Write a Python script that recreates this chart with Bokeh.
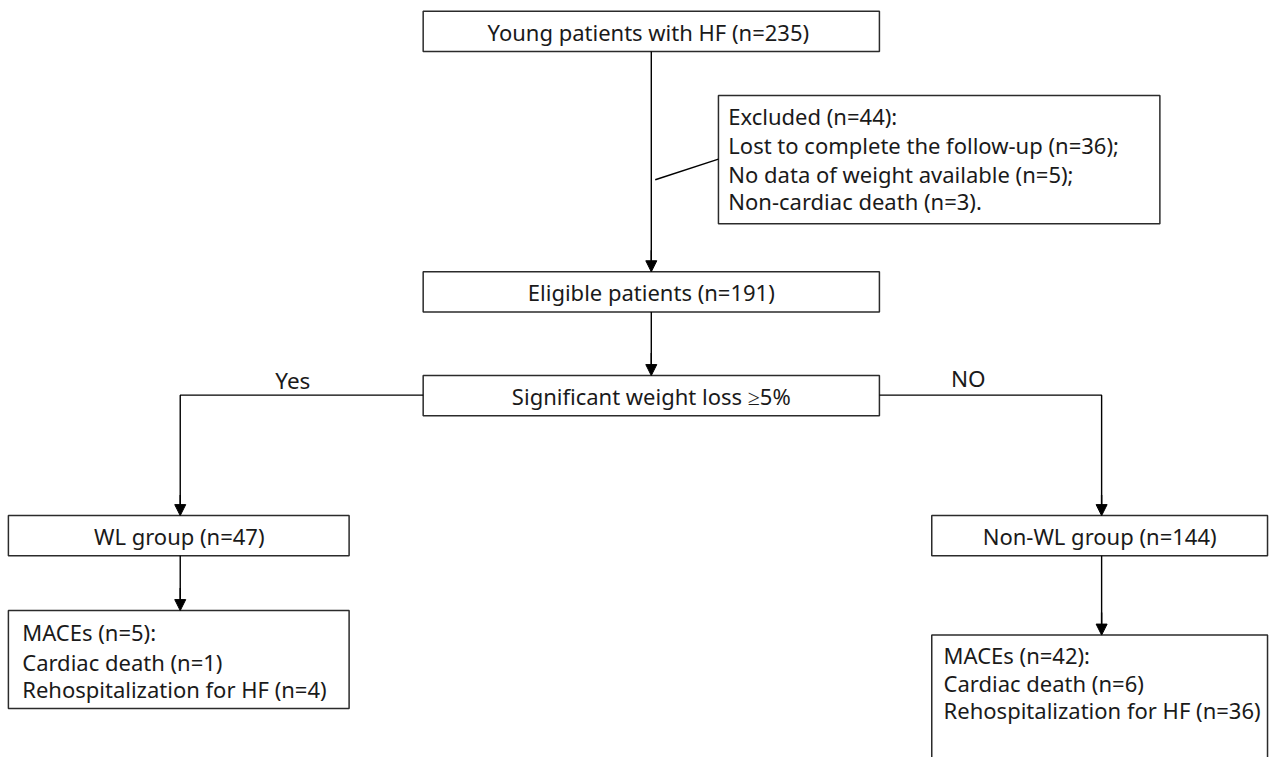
from bokeh.plotting import figure
from bokeh.models import Range1d, Arrow, NormalHead
from bokeh.core.properties import value
from bokeh.embed import file_html
from bokeh.resources import INLINE

# ---- texts (the chart's content) ----
top_label = "Young patients with HF (n=235)"
excluded_lines = [
    "Excluded (n=44):",
    "Lost to complete the follow-up (n=36);",
    "No data of weight available (n=5);",
    "Non-cardiac death (n=3).",
]
eligible_label = "Eligible patients (n=191)"
decision_label = "Significant weight loss \u22655%"
branch_labels = ["Yes", "NO"]
group_labels = ["WL group (n=47)", "Non-WL group (n=144)"]
wl_mace_lines = ["MACEs (n=5):", "Cardiac death (n=1)", "Rehospitalization for HF (n=4)"]
nonwl_mace_lines = ["MACEs (n=42):", "Cardiac death (n=6)", "Rehospitalization for HF (n=36)"]

FONT = value("Noto Sans")
FS = "22px"
LC = "#2b2b2b"
TC = "#1a1a1a"

p = figure(width=1269, height=757, output_backend="svg", toolbar_location=None,
           x_range=Range1d(0, 1285), y_range=Range1d(773, 0),
           min_border=0, outline_line_color=None)
p.axis.visible = False
p.grid.visible = False
p.background_fill_color = "white"
p.border_fill_color = "white"

# ---- boxes (layout) ----
box_l = [428, 727, 428, 428, 8, 943, 8, 943]
box_r = [890, 1174, 890, 890, 353, 1283, 353, 1283]
box_t = [11, 97, 277, 383, 526, 526, 623, 648]
box_b = [52, 228, 318, 424, 567, 567, 723, 800]
p.quad(left=box_l, right=box_r, top=box_t, bottom=box_b,
       fill_color="white", line_color=LC, line_width=1.5)

# ---- connector lines ----
xs = [[659, 659], [663, 727], [659, 659], [428, 182, 182], [890, 1115, 1115], [182, 182], [1115, 1115]]
ys = [[52, 270], [183, 162], [318, 376], [403, 403, 519], [403, 403, 519], [567, 616], [567, 641]]
p.multi_line(xs=xs, ys=ys, line_color="black", line_width=1.4)

# arrowheads
for (x, y0, y1) in [(659, 255, 277), (659, 360, 383), (182, 505, 526), (1115, 505, 526),
                    (182, 600, 623), (1115, 625, 648)]:
    p.add_layout(Arrow(end=NormalHead(size=11, fill_color="black", line_color="black"),
                       x_start=x, y_start=y0, x_end=x, y_end=y1,
                       line_color="black", line_width=1.4))

# ---- centred labels ----
p.text(x=[656, 659, 659], y=[32, 298, 404], text=[top_label, eligible_label, decision_label],
       text_font=FONT, text_font_size=FS,
       text_align="center", text_baseline="middle", text_color=TC)
p.text(x=[296, 980], y=[388, 386], text=branch_labels, text_font=FONT,
       text_font_size="22.5px", text_align="center", text_baseline="middle", text_color=TC)
p.text(x=[181, 1113], y=[547, 547], text=group_labels, text_font=FONT,
       text_font_size=FS, text_align="center", text_baseline="middle", text_color=TC)

# ---- left-aligned multi-line labels ----
p.text(x=[737] * 4, y=[118, 148, 177, 205], text=excluded_lines, text_font=FONT,
       text_font_size=FS, text_align="left", text_baseline="middle", text_color=TC)
p.text(x=[22] * 3, y=[645, 675, 703], text=wl_mace_lines, text_font=FONT,
       text_font_size=FS, text_align="left", text_baseline="middle", text_color=TC)
p.text(x=[955] * 3, y=[668, 697, 725], text=nonwl_mace_lines, text_font=FONT,
       text_font_size=FS, text_align="left", text_baseline="middle", text_color=TC)

open("out.html", "w").write(file_html(p, INLINE))
